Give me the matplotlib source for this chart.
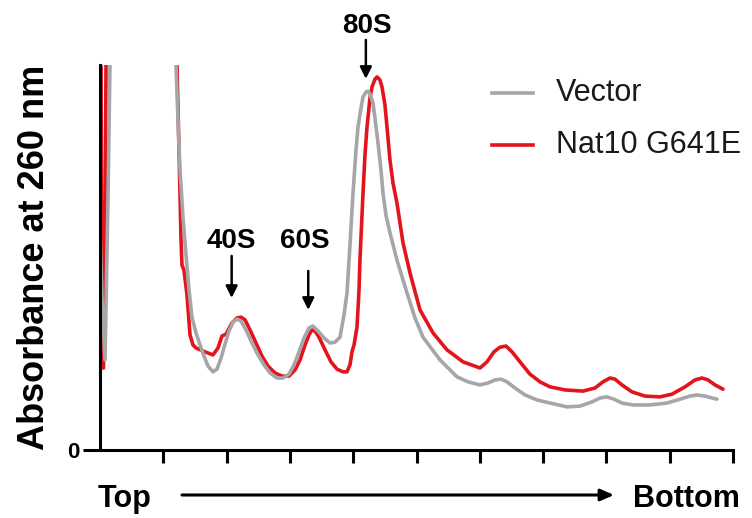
import matplotlib
matplotlib.use("Agg")
import matplotlib.pyplot as plt
from matplotlib.lines import Line2D

# ---- data (x: gradient position 0-10, y: absorbance, arbitrary units, 0-100 shown) ----
vector_x = [0.0, 0.032, 0.079, 0.126, 0.158, 0.3, 1.0, 1.201, 1.232, 1.264, 1.311, 1.359, 1.406,
            1.453, 1.517, 1.580, 1.643, 1.706, 1.785, 1.848, 1.912, 1.975, 2.038, 2.101, 2.164,
            2.227, 2.306, 2.401, 2.496, 2.591, 2.686, 2.796, 2.891, 2.986, 3.065, 3.144, 3.223,
            3.302, 3.365, 3.444, 3.539, 3.633, 3.712, 3.791, 3.855, 3.902, 3.949, 3.997, 4.044,
            4.076, 4.123, 4.155, 4.202, 4.234, 4.265, 4.313, 4.344, 4.392, 4.439, 4.471, 4.518,
            4.581, 4.692, 4.850, 4.976, 5.103, 5.371, 5.640, 5.814, 6.003, 6.130, 6.240, 6.335,
            6.430, 6.556, 6.714, 6.904, 7.109, 7.378, 7.583, 7.773, 7.899, 8.009, 8.120, 8.246,
            8.420, 8.689, 8.957, 9.163, 9.321, 9.431, 9.558, 9.668, 9.747]
vector_y = [57.9, 39.0, 23.4, 64.9, 100.5, 200, 200, 100.0, 85.7, 72.7, 60.5, 50.6, 41.6,
            34.5, 30.4, 27.3, 24.4, 21.8, 20.3, 21.0, 23.9, 27.5, 30.9, 33.2, 34.0,
            33.5, 31.2, 27.8, 24.7, 22.1, 20.0, 18.7, 18.7, 19.7, 22.1, 25.5, 29.1,
            31.7, 32.2, 30.9, 29.1, 27.8, 28.0, 29.3, 35.1, 40.8, 53.2, 66.7, 77.9,
            83.9, 88.8, 91.7, 93.0, 93.2, 92.5, 90.1, 86.2, 79.7, 72.7, 66.7, 61.0,
            56.4, 49.3, 40.8, 34.3, 29.3, 23.4, 19.0, 17.7, 16.9, 17.4, 18.2, 18.4,
            17.7, 16.1, 14.3, 13.0, 12.2, 11.2, 11.4, 12.5, 13.5, 13.8, 13.2, 12.2,
            11.7, 11.7, 12.2, 13.2, 14.0, 14.3, 14.0, 13.5, 13.2]

nat10_x = [0.0, 0.016, 0.032, 0.039, 0.055, 0.079, 0.095, 0.3, 1.0, 1.216, 1.248, 1.280, 1.295,
           1.327, 1.374, 1.422, 1.469, 1.517, 1.659, 1.785, 1.864, 1.927, 1.991, 2.085, 2.164,
           2.227, 2.291, 2.370, 2.464, 2.559, 2.654, 2.765, 2.875, 2.986, 3.081, 3.160, 3.239,
           3.302, 3.349, 3.397, 3.460, 3.555, 3.649, 3.744, 3.839, 3.902, 3.949, 3.981, 4.013,
           4.060, 4.092, 4.107, 4.155, 4.186, 4.218, 4.265, 4.297, 4.344, 4.376, 4.423, 4.455,
           4.502, 4.534, 4.581, 4.629, 4.692, 4.787, 4.897, 5.055, 5.261, 5.482, 5.735, 6.003,
           6.114, 6.224, 6.319, 6.414, 6.509, 6.635, 6.793, 6.951, 7.109, 7.346, 7.630, 7.820,
           7.946, 8.057, 8.136, 8.246, 8.404, 8.610, 8.847, 9.036, 9.242, 9.400, 9.510, 9.605,
           9.716, 9.842]
nat10_y = [150, 100.0, 39.0, 21.3, 21.3, 51.9, 100.0, 200, 200, 100.0, 77.9, 54.5, 48.0,
           46.7, 40.3, 29.9, 27.3, 26.5, 25.5, 24.7, 26.5, 29.6, 30.1, 33.0, 34.3,
           34.5, 33.8, 31.2, 27.8, 24.4, 21.8, 20.0, 19.2, 19.2, 20.8, 23.4, 27.3,
           29.9, 31.2, 30.9, 29.3, 26.0, 22.9, 21.0, 20.3, 20.3, 22.1, 25.5, 27.3,
           31.9, 41.6, 49.4, 66.7, 76.6, 83.9, 91.4, 94.3, 96.3, 96.9, 96.1, 94.3,
           89.6, 83.9, 75.3, 69.3, 64.1, 53.8, 46.0, 36.4, 30.4, 26.0, 22.9, 21.3,
           22.9, 25.5, 26.7, 27.0, 25.5, 22.9, 19.7, 17.7, 16.4, 15.6, 15.3, 16.1,
           17.7, 18.7, 18.4, 16.9, 15.1, 14.0, 13.8, 14.5, 16.4, 18.2, 18.7, 18.2,
           16.9, 15.8]

series_names = ["Vector", "Nat10 G641E"]
series_colors = ["#a6a6a8", "#e3141c"]

peak_labels = ["40S", "60S", "80S"]
peak_label_x = [2.08, 3.23, 4.22]
peak_label_y = [52.5, 52.5, 108.3]
peak_arrow_x = [2.08, 3.29, 4.20]
peak_arrow_top = [50.4, 46.5, 106.5]
peak_arrow_tip = [39.5, 36.4, 96.4]

x_ticks = list(range(1, 11))

FONT = "Liberation Sans"

# ---- figure ----
W, H = 752, 518
fig = plt.figure(figsize=(W / 100, H / 100), dpi=100)
ax = fig.add_axes([100 / W, 1 - 450 / H, (733 - 100) / W, (450 - 65) / H])
ax.set_xlim(0, 10)
ax.set_ylim(0, 100)

ax.plot(nat10_x, nat10_y, color=series_colors[1], lw=2.6,
        solid_joinstyle="round", solid_capstyle="round", zorder=3)
ax.plot(vector_x, vector_y, color=series_colors[0], lw=2.6,
        solid_joinstyle="round", solid_capstyle="round", zorder=4)

for s in ["top", "right"]:
    ax.spines[s].set_visible(False)
for s in ["left", "bottom"]:
    ax.spines[s].set_linewidth(2.2)
    ax.spines[s].set_color("black")
    ax.spines[s].set_zorder(5)
ax.spines["bottom"].set_bounds(0, 10)

ax.set_xticks(x_ticks)
ax.set_xticklabels([])
ax.tick_params(axis="x", direction="out", length=9, width=2.2, color="black")
ax.set_yticks([0])
ax.set_yticklabels(["0"], fontsize=16, fontweight="bold", family=FONT)
ax.tick_params(axis="y", direction="out", length=12, width=2.2, color="black", pad=3)

ax.set_ylabel("Absorbance at 260 nm", fontsize=26, fontweight="bold", family=FONT)
ax.yaxis.set_label_coords(-48 / 633, 0.5)

# peak annotations
for lab, lx, ly, axx, top, tip in zip(peak_labels, peak_label_x, peak_label_y,
                                      peak_arrow_x, peak_arrow_top, peak_arrow_tip):
    ax.text(lx, ly, lab, ha="center", va="baseline", fontsize=20, fontweight="bold",
            family=FONT, clip_on=False)
    ax.annotate("", xy=(axx, tip), xytext=(axx, top),
                arrowprops=dict(arrowstyle="-|>,head_length=0.7,head_width=0.35",
                                lw=1.8, color="black", shrinkA=0, shrinkB=0),
                annotation_clip=False)

# legend drawn in figure pixel positions
def fx(px):
    return px / W

def fy(py):
    return 1 - py / H

for name, col, py in zip(series_names, series_colors, [93, 145]):
    fig.add_artist(Line2D([fx(492), fx(533)], [fy(py), fy(py)], color=col, lw=2.6,
                          transform=fig.transFigure))
    fig.text(fx(556), fy(py), name, ha="left", va="center", fontsize=22,
             family=FONT, color="#1a1a1a")

# bottom direction label
fig.text(fx(98), fy(507), "Top", ha="left", va="baseline", fontsize=22, fontweight="bold",
         family=FONT)
fig.text(fx(740), fy(507), "Bottom", ha="right", va="baseline", fontsize=22,
         fontweight="bold", family=FONT)
ax.annotate("", xy=(fx(614), fy(495)), xytext=(fx(182), fy(495)),
            xycoords="figure fraction", textcoords="figure fraction",
            arrowprops=dict(arrowstyle="-|>,head_length=0.8,head_width=0.35",
                            lw=2.2, color="black", shrinkA=0, shrinkB=0),
            annotation_clip=False)

fig.savefig("out.png", dpi=100)
